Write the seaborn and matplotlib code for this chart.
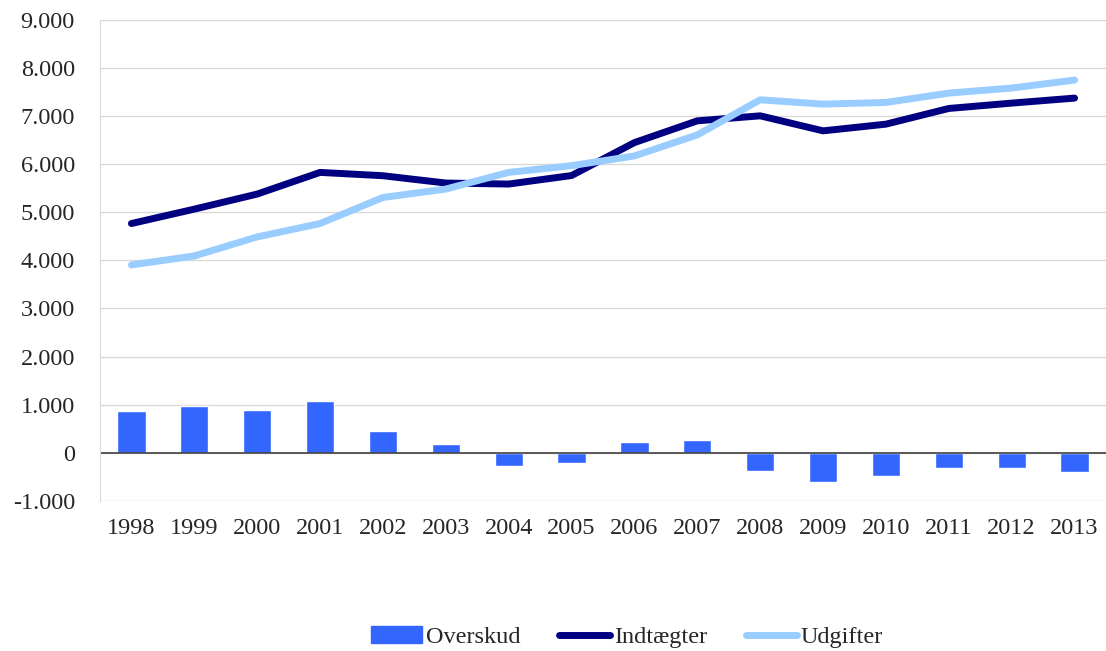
import numpy as np
import pandas as pd
import matplotlib
matplotlib.use("Agg")
import matplotlib.pyplot as plt
import seaborn as sns
from matplotlib.ticker import FuncFormatter
from matplotlib.patches import Patch
from matplotlib.lines import Line2D

years = [str(y) for y in range(1998, 2014)]
overskud = [875, 965, 896, 1069, 458, 194, -265, -217, 235, 271, -369, -598, -479, -313, -310, -396]
indtaegter = [4763, 5062, 5375, 5825, 5756, 5604, 5583, 5760, 6444, 6896, 7000, 6688, 6827, 7153, 7264, 7368]
udgifter = [3903, 4090, 4485, 4763, 5304, 5479, 5825, 5965, 6167, 6604, 7333, 7243, 7278, 7472, 7577, 7743]

bar_color = "#3366FF"
dark = "#000080"
light = "#99CCFF"
fs = 17.5
lw = 5

sns.set_style("white")
plt.rcParams["font.family"] = ["Liberation Serif", "DejaVu Serif"]

df = pd.DataFrame({"year": years, "Overskud": overskud,
                   "Indtægter": indtaegter, "Udgifter": udgifter})
df["pos"] = np.arange(len(years))

fig = plt.figure(figsize=(11.06, 6.51), dpi=100)
ax = fig.add_axes([0.0904, 0.2304, 0.9096, 0.7396])

sns.barplot(data=df, x="year", y="Overskud", order=years, color=bar_color,
            width=0.45, saturation=1, ax=ax, zorder=2)
sns.lineplot(data=df, x="pos", y="Indtægter", color=dark, lw=lw, ax=ax,
             solid_capstyle="round", solid_joinstyle="round", zorder=3)
sns.lineplot(data=df, x="pos", y="Udgifter", color=light, lw=lw, ax=ax,
             solid_capstyle="round", solid_joinstyle="round", zorder=4)

ax.set_xlim(-0.5, len(years) - 0.5)
ax.set_ylim(-1000, 9000)
ax.set_yticks(range(-1000, 9001, 1000))
ax.yaxis.set_major_formatter(FuncFormatter(lambda v, p: f"{int(v):,}".replace(",", ".")))
ax.set_xlabel("")
ax.set_ylabel("")
ax.grid(axis="y", color="#d9d9d9", lw=1, zorder=0)
ax.axhline(0, color="#404040", lw=1.2, zorder=2.5)
for s in ["top", "right", "bottom"]:
    ax.spines[s].set_visible(False)
ax.spines["left"].set_color("#d9d9d9")
ax.tick_params(axis="both", length=0, labelsize=fs)
ax.tick_params(axis="x", pad=12)
ax.tick_params(axis="y", pad=18)

handles = [Patch(color=bar_color),
           Line2D([0], [0], color=dark, lw=lw, solid_capstyle="round"),
           Line2D([0], [0], color=light, lw=lw, solid_capstyle="round")]
fig.legend(handles, ["Overskud", "Indtægter", "Udgifter"], loc="center",
           bbox_to_anchor=(0.567, 0.021), ncol=3, frameon=False, fontsize=fs,
           handlelength=2.1, handletextpad=0.15, columnspacing=1.6)

fig.savefig("out.png", dpi=100)
